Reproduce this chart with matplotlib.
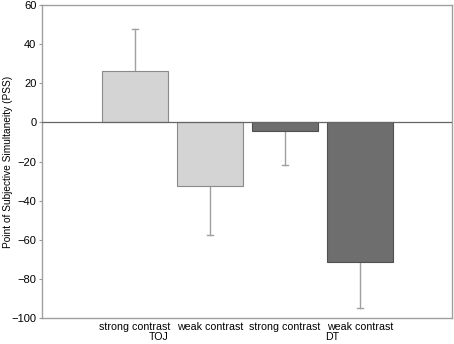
import numpy as np
import matplotlib.pyplot as plt

plt.rcParams['font.family'] = ['Liberation Sans', 'DejaVu Sans']

# data
conditions = ['strong contrast', 'weak contrast', 'strong contrast', 'weak contrast']
groups = ['TOJ', 'DT']
pss = [26.5, -32.5, -4.5, -71.5]
err = [21.0, 25.0, 17.5, 23.5]
colors = ['#d4d4d4', '#d4d4d4', '#6e6e6e', '#6e6e6e']
edges = ['#8a8a8a', '#8a8a8a', '#505050', '#505050']

fig = plt.figure(figsize=(4.54, 3.44), dpi=100)
ax = fig.add_axes([42/454, 1-318/344, 410.5/454, 313/344])

x = np.arange(len(pss))
ax.bar(x, pss, width=0.89, color=colors, edgecolor=edges, linewidth=0.8, zorder=2)

# one-sided error bars (away from zero)
for xi, v, e in zip(x, pss, err):
    tip = v + e if v > 0 else v - e
    ax.plot([xi, xi], [v, tip], color='#a0a0a0', lw=1.0, zorder=1)
    ax.plot([xi - 0.045, xi + 0.045], [tip, tip], color='#a0a0a0', lw=1.0, zorder=1)

ax.axhline(0, color='#666666', lw=0.9, zorder=3)

ax.set_xlim(-1.24, 4.233)
ax.set_ylim(-100, 60)
ax.set_yticks(np.arange(-100, 61, 20))
ax.set_yticklabels([str(t).replace('-', '\u2212') for t in range(-100, 61, 20)])
ax.set_xticks(x)
ax.set_xticklabels(conditions)
ax.tick_params(axis='x', length=0, pad=3, labelsize=7.7)
ax.tick_params(axis='y', length=2, width=0.8, color='#999999', pad=2, labelsize=8)

for s in ax.spines.values():
    s.set_color('#a0a0a0')
    s.set_linewidth(1.0)

# group labels
for gx, g in zip([0.31, 2.63], groups):
    ax.text(gx, -19/313, g, transform=ax.get_xaxis_transform(), ha='center', va='center', fontsize=7.7)

ax.set_ylabel('Point of Subjective Simultaneity (PSS)', fontsize=7.3)
ax.yaxis.set_label_coords(-0.07, 0.5)

fig.savefig('out.png', dpi=100)
